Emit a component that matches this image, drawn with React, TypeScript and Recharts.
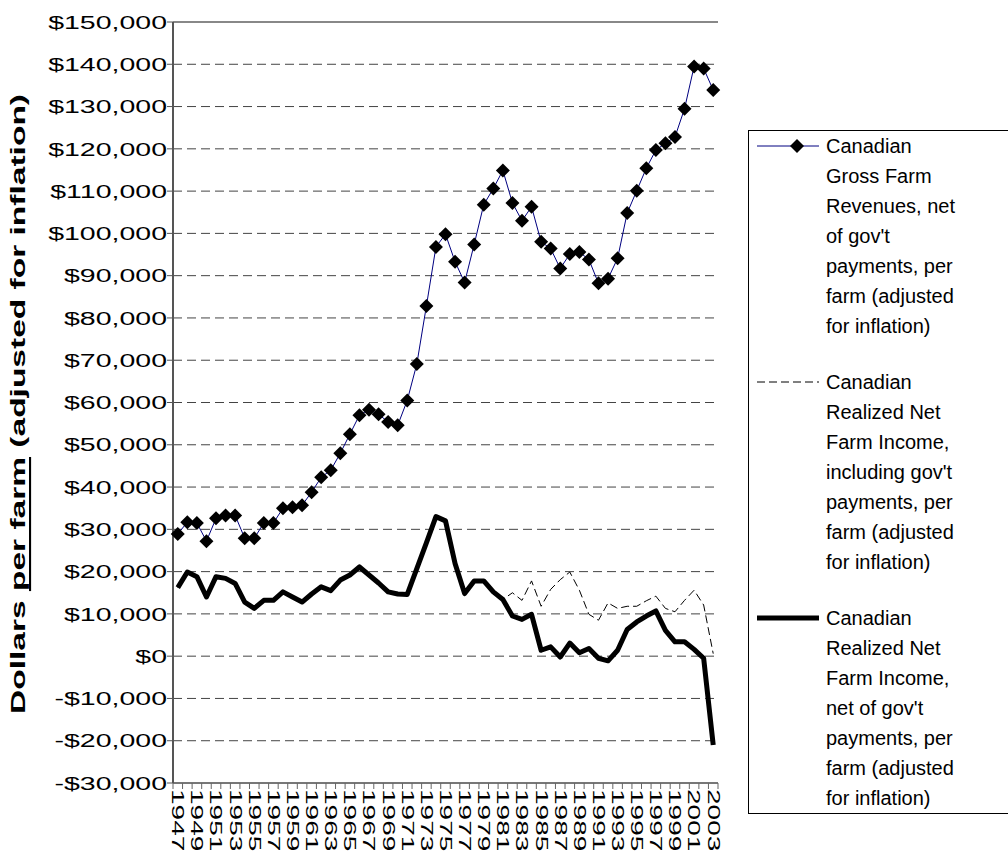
import React from 'react';
import { LineChart, Line, XAxis, YAxis, CartesianGrid, ReferenceLine, Legend } from 'recharts';

const YEARS = [
  '1947', '1948', '1949', '1950', '1951', '1952', '1953', '1954', '1955', '1956',
  '1957', '1958', '1959', '1960', '1961', '1962', '1963', '1964', '1965', '1966',
  '1967', '1968', '1969', '1970', '1971', '1972', '1973', '1974', '1975', '1976',
  '1977', '1978', '1979', '1980', '1981', '1982', '1983', '1984', '1985', '1986',
  '1987', '1988', '1989', '1990', '1991', '1992', '1993', '1994', '1995', '1996',
  '1997', '1998', '1999', '2000', '2001', '2002', '2003',
];

// gross farm revenues, net of gov't payments, per farm
const GROSS = [
  28900, 31700, 31500, 27200, 32600, 33300, 33300, 27900, 27900, 31500,
  31500, 35000, 35200, 35700, 38800, 42300, 44000, 48000, 52500, 57000,
  58300, 57200, 55400, 54600, 60500, 69100, 82800, 96800, 99800, 93300,
  88400, 97400, 106800, 110600, 114900, 107200, 103000, 106300, 98000, 96400,
  91700, 95100, 95600, 93800, 88200, 89300, 94100, 104800, 110100, 115400,
  119700, 121300, 122800, 129500, 139500, 139000, 133900,
];

// realized net farm income, including gov't payments
const NET_INCL = [
  16200, 19900, 18800, 14000, 18800, 18400, 17200, 12800, 11300, 13200,
  13200, 15200, 14000, 12800, 14700, 16400, 15500, 18000, 19200, 21100,
  19200, 17300, 15200, 14700, 14600, 20700, 26800, 33000, 32000, 21900,
  14800, 17800, 17800, 15200, 13400, 15000, 13200, 17800, 11800, 15800,
  18100, 19900, 15600, 9900, 8500, 12600, 11300, 11800, 11800, 13100,
  14200, 11300, 10500, 13200, 15600, 12100, 600,
];

// realized net farm income, net of gov't payments
const NET_EXCL = [
  16200, 19900, 18800, 14000, 18800, 18400, 17200, 12800, 11300, 13200,
  13200, 15200, 14000, 12800, 14700, 16400, 15500, 18000, 19200, 21100,
  19200, 17300, 15200, 14700, 14600, 20700, 26800, 33000, 32000, 21900,
  14800, 17800, 17800, 15200, 13400, 9500, 8700, 9900, 1400, 2200,
  -200, 3100, 800, 1800, -500, -1100, 1400, 6300, 8100, 9500,
  10700, 6100, 3400, 3400, 1600, -500, -21000,
];

const Y_TICKS = [
  -30000, -20000, -10000, 0, 10000, 20000, 30000, 40000, 50000, 60000,
  70000, 80000, 90000, 100000, 110000, 120000, 130000, 140000, 150000,
];

const LEGEND_ITEMS = [
  { key: 'gross', lines: ['Canadian', 'Gross Farm', 'Revenues, net', "of gov't", 'payments, per', 'farm (adjusted', 'for inflation)'] },
  { key: 'netIncl', lines: ['Canadian', 'Realized Net', 'Farm Income,', "including gov't", 'payments, per', 'farm (adjusted', 'for inflation)'] },
  { key: 'netExcl', lines: ['Canadian', 'Realized Net', 'Farm Income,', "net of gov't", 'payments, per', 'farm (adjusted', 'for inflation)'] },
];

const data = YEARS.map((year, i) => ({
  year,
  gross: GROSS[i],
  netIncl: NET_INCL[i],
  netExcl: NET_EXCL[i],
}));

const FONT = '"Liberation Sans", Arial, sans-serif';
const PLOT_LEFT = 173;
const PLOT_RIGHT = 718;
const PLOT_TOP = 22;
const PLOT_BOTTOM = 783;
const STEP = (PLOT_RIGHT - PLOT_LEFT) / YEARS.length;

const money = (v: number) => (v < 0 ? '-$' : '$') + Math.abs(v).toLocaleString('en-US');

const Diamond = (props: any) => {
  const { cx, cy, index } = props;
  if (cx == null || cy == null) return <g key={`d-${index}`} />;
  const r = 7;
  return (
    <path
      key={`d-${index}`}
      d={`M${cx},${cy - r} L${cx + r},${cy} L${cx},${cy + r} L${cx - r},${cy} Z`}
      fill="#000"
    />
  );
};

const YearTick = (props: any) => {
  const { x, payload } = props;
  const index = props.index ?? YEARS.indexOf(payload.value);
  const half = STEP / 2;
  const ty = PLOT_BOTTOM + 6;
  return (
    <g>
      {index === 0 && (
        <line x1={x - half} x2={x - half} y1={PLOT_BOTTOM} y2={PLOT_BOTTOM + 6} stroke="#666" />
      )}
      <line x1={x + half} x2={x + half} y1={PLOT_BOTTOM} y2={PLOT_BOTTOM + 6} stroke="#666" />
      {index % 2 === 0 && (
        <text
          transform={`translate(${x}, ${ty}) rotate(90) scale(1.75, 1)`}
          dominantBaseline="central"
          textAnchor="start"
          fontSize={16}
          fontFamily={FONT}
          fill="#000"
        >
          {payload.value}
        </text>
      )}
    </g>
  );
};

const MoneyTick = (props: any) => {
  const { x, y, payload } = props;
  return (
    <text
      transform={`translate(${x}, ${y}) scale(1.5, 1)`}
      textAnchor="end"
      dominantBaseline="central"
      fontSize={19}
      fontFamily={FONT}
      fill="#000"
    >
      {money(payload.value)}
    </text>
  );
};

const AxisTitle = () => (
  <text
    transform="translate(17, 404) rotate(-90)"
    textAnchor="middle"
    dominantBaseline="central"
    fontSize={21}
    fontWeight="bold"
    fontFamily={FONT}
    fill="#000"
    textLength={620}
    lengthAdjust="spacingAndGlyphs"
  >
    Dollars <tspan textDecoration="underline">per farm</tspan> (adjusted for inflation)
  </text>
);

const Swatch = ({ kind }: { kind: string }) => (
  <svg width={62} height={30} style={{ display: 'block' }}>
    {kind === 'gross' && (
      <>
        <line x1={0} x2={62} y1={15} y2={15} stroke="#000080" strokeWidth={1} />
        <path d="M40,8 L47,15 L40,22 L33,15 Z" fill="#000" />
      </>
    )}
    {kind === 'netIncl' && (
      <line x1={0} x2={62} y1={15} y2={15} stroke="#000" strokeWidth={1} strokeDasharray="8 4" />
    )}
    {kind === 'netExcl' && (
      <line x1={0} x2={62} y1={15} y2={15} stroke="#000" strokeWidth={5} />
    )}
  </svg>
);

const LegendBox = () => (
  <div
    style={{
      border: '1px solid #000',
      background: '#fff',
      width: 262,
      height: 684,
      boxSizing: 'border-box',
      fontFamily: FONT,
      fontSize: 20,
      color: '#000',
    }}
  >
    {LEGEND_ITEMS.map((item) => (
      <div key={item.key} style={{ display: 'flex', alignItems: 'flex-start', marginBottom: 26 }}>
        <div style={{ width: 69, paddingLeft: 8 }}>
          <Swatch kind={item.key} />
        </div>
        <div>
          {item.lines.map((l) => (
            <div key={l} style={{ height: 30, lineHeight: '30px', whiteSpace: 'nowrap' }}>
              {l}
            </div>
          ))}
        </div>
      </div>
    ))}
  </div>
);

export default function App() {
  return (
    <div style={{ position: 'absolute', left: 0, top: 0, width: 1008, height: 859, background: '#fff' }}>
      <LineChart
        width={1008}
        height={859}
        data={data}
        margin={{ top: PLOT_TOP, right: 1008 - PLOT_RIGHT, bottom: 6, left: 0 }}
      >
        <CartesianGrid vertical={false} stroke="#444" strokeDasharray="9 5" />
        <ReferenceLine y={150000} stroke="#888" strokeWidth={2} />
        <XAxis
          dataKey="year"
          interval={0}
          height={859 - PLOT_BOTTOM - 6}
          padding={{ left: STEP / 2, right: STEP / 2 }}
          axisLine={{ stroke: '#777', strokeWidth: 2 }}
          tickLine={false}
          tickSize={0}
          tickMargin={0}
          tick={<YearTick />}
        />
        <YAxis
          width={PLOT_LEFT}
          domain={[-30000, 150000]}
          ticks={Y_TICKS}
          interval={0}
          axisLine={{ stroke: '#555', strokeWidth: 2 }}
          tickLine={{ stroke: '#555' }}
          tickSize={6}
          tickMargin={0}
          tick={<MoneyTick />}
          label={<AxisTitle />}
        />
        <Line
          dataKey="gross"
          stroke="#000080"
          strokeWidth={1}
          dot={<Diamond />}
          activeDot={false}
          isAnimationActive={false}
        />
        <Line
          dataKey="netIncl"
          stroke="#000"
          strokeWidth={1}
          strokeDasharray="8 4"
          dot={false}
          activeDot={false}
          isAnimationActive={false}
        />
        <Line
          dataKey="netExcl"
          stroke="#000"
          strokeWidth={5}
          strokeLinejoin="round"
          dot={false}
          activeDot={false}
          isAnimationActive={false}
        />
        <Legend
          layout="vertical"
          align="center"
          verticalAlign="middle"
          content={<LegendBox />}
          wrapperStyle={{ position: 'absolute', left: 748, top: 130, width: 262, height: 684 }}
        />
      </LineChart>
    </div>
  );
}
